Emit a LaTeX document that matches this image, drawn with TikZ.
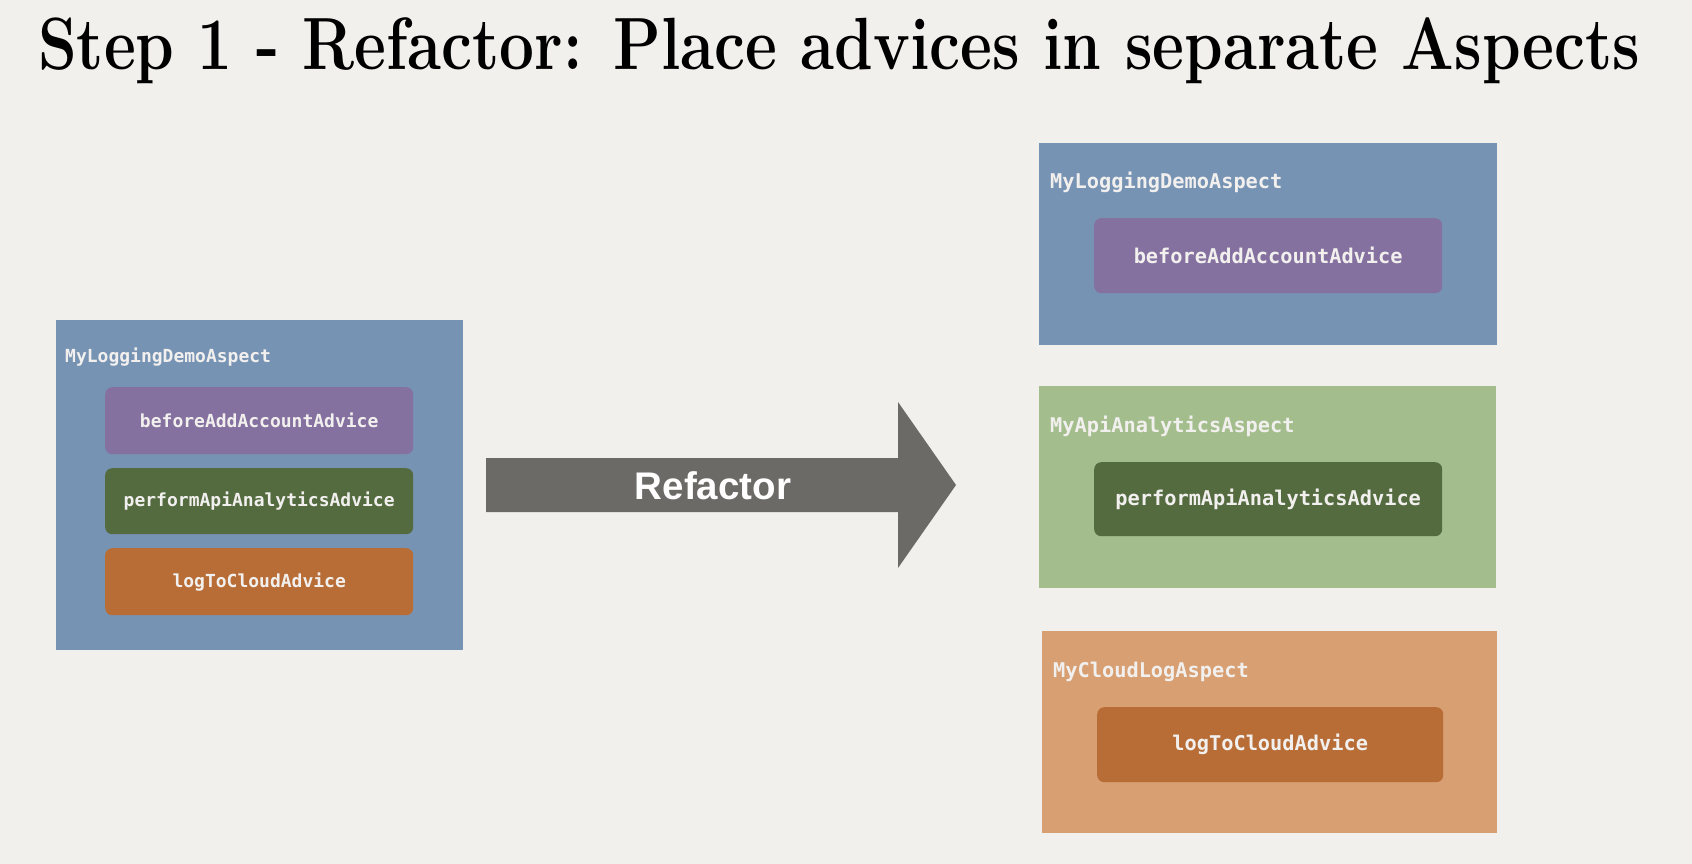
\documentclass[tikz,border=0pt]{standalone}
\usepackage{fontspec}
\usepackage{graphicx}
\newfontfamily\codefont{DejaVu Sans Mono}
\newfontfamily\arrowfont{Liberation Sans}
\definecolor{bgc}{HTML}{F2F0EC}
\definecolor{blueA}{HTML}{7793B3}
\definecolor{purpleA}{HTML}{85719F}
\definecolor{darkgreenA}{HTML}{546B40}
\definecolor{orangeA}{HTML}{B86D37}
\definecolor{lightgreenA}{HTML}{A3BD8C}
\definecolor{lightorangeA}{HTML}{D89F72}
\definecolor{greyA}{HTML}{6C6A67}
\definecolor{txtA}{HTML}{F2F0EE}
\begin{document}
\begin{tikzpicture}[x=1pt,y=-1pt,
  aspectbox/.style={rectangle,draw=none,inner sep=0pt,anchor=north west},
  advicebox/.style={rectangle,draw=none,rounded corners=7pt,inner sep=0pt,anchor=north west,text=txtA},
  smallcode/.style={font=\codefont\bfseries\fontsize{18pt}{20pt}\selectfont},
  bigcode/.style={font=\codefont\bfseries\fontsize{20.3pt}{22pt}\selectfont},
  lbl/.style={inner sep=0pt,anchor=base west,text=txtA}]
\fill[bgc] (0,0) rectangle (1692,864);
\useasboundingbox (0,0) rectangle (1692,864);
% title
\node[inner sep=0pt,anchor=base west] (title) at (38,70)
  {\resizebox{1602pt}{\height}{\fontsize{74pt}{80pt}\selectfont\bfseries Step 1 - Refactor: Place advices in separate Aspects}};
% left aspect
\node[aspectbox,fill=blueA,minimum width=407pt,minimum height=330pt] (left) at (56,320) {};
\node[lbl,smallcode] (leftlbl) at (65,362) {MyLoggingDemoAspect};
\node[advicebox,smallcode,fill=purpleA,minimum width=308pt,minimum height=67pt] (l1) at (105,387) {beforeAddAccountAdvice};
\node[advicebox,smallcode,fill=darkgreenA,minimum width=308pt,minimum height=66pt] (l2) at (105,468) {performApiAnalyticsAdvice};
\node[advicebox,smallcode,fill=orangeA,minimum width=308pt,minimum height=67pt] (l3) at (105,548) {logToCloudAdvice};
% arrow
\fill[greyA] (486,458) -- (898,458) -- (898,402) -- (956,485) -- (898,568) -- (898,512) -- (486,512) -- cycle;
\node[inner sep=0pt,text=white,font=\arrowfont\bfseries\fontsize{38.5pt}{40pt}\selectfont] (refactor) at (713,486) {Refactor};
% right aspects
\node[aspectbox,fill=blueA,minimum width=458pt,minimum height=202pt] (r1) at (1039,143) {};
\node[lbl,bigcode] (r1lbl) at (1050,189) {MyLoggingDemoAspect};
\node[advicebox,bigcode,fill=purpleA,minimum width=348pt,minimum height=75pt] (r1a) at (1094,218) {beforeAddAccountAdvice};
\node[aspectbox,fill=lightgreenA,minimum width=457pt,minimum height=202pt] (r2) at (1039,386) {};
\node[lbl,bigcode] (r2lbl) at (1050,432) {MyApiAnalyticsAspect};
\node[advicebox,bigcode,fill=darkgreenA,minimum width=348pt,minimum height=74pt] (r2a) at (1094,462) {performApiAnalyticsAdvice};
\node[aspectbox,fill=lightorangeA,minimum width=455pt,minimum height=202pt] (r3) at (1042,631) {};
\node[lbl,bigcode] (r3lbl) at (1053,677) {MyCloudLogAspect};
\node[advicebox,bigcode,fill=orangeA,minimum width=346pt,minimum height=75pt] (r3a) at (1097,707) {logToCloudAdvice};
\end{tikzpicture}
\end{document}
